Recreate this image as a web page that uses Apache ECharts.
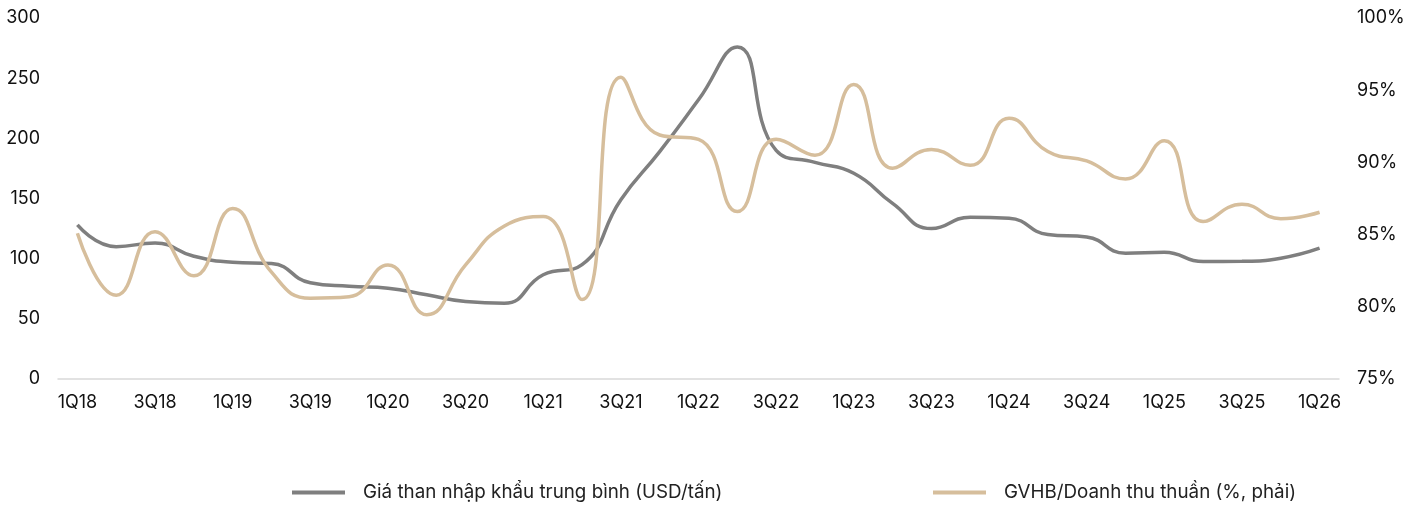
<!DOCTYPE html>
<html><head><meta charset="utf-8">
<script src="https://cdn.jsdelivr.net/npm/echarts@6/dist/echarts.min.js"></script>
<style>html,body{margin:0;padding:0;background:#fff}#c{width:1419px;height:505px}</style>
</head><body><div id="c"></div>
<script>
const categories = ['1Q18','2Q18','3Q18','4Q18','1Q19','2Q19','3Q19','4Q19','1Q20','2Q20','3Q20','4Q20','1Q21','2Q21','3Q21','4Q21','1Q22','2Q22','3Q22','4Q22','1Q23','2Q23','3Q23','4Q23','1Q24','2Q24','3Q24','4Q24','1Q25','2Q25','3Q25','4Q25','1Q26'];
const coalPrice = [128,110,113,102,97,96,80,77,75.5,70,64.4,63,86.6,95,149,189,232,276,190,180,171,146,125,134.5,133.6,120,118,104.6,105.4,97.6,97.8,100.4,108.7];
const cogsRatio = [85.1,80.8,85.2,82.15,86.8,82.4,80.6,80.7,82.9,79.45,82.9,85.6,86.25,80.5,95.9,91.9,91.6,86.6,91.6,90.5,95.4,89.6,90.9,89.8,93.05,90.75,90.1,88.85,91.5,85.9,87.1,86.1,86.55];
const seriesNames = ['Giá than nhập khẩu trung bình (USD/tấn)', 'GVHB/Doanh thu thuần (%, phải)'];

const chart = echarts.init(document.getElementById('c'));
const font = 'Inter';
const legendBase = {
  top: 483, padding: 0, itemWidth: 53, itemHeight: 4, icon: 'rect',
  textStyle: {fontFamily: font, fontSize: 18.8, color: '#222', padding: [0, 0, 0, 13]}
};
chart.setOption({
  animation: false,
  color: ['#7f7f7f', '#d6be9c'],
  grid: {left: 58, right: 80, top: 18, bottom: 126, containLabel: false},
  legend: [
    Object.assign({}, legendBase, {left: 292, data: [seriesNames[0]]}),
    Object.assign({}, legendBase, {left: 933, data: [seriesNames[1]]})
  ],
  xAxis: {
    type: 'category', data: categories, boundaryGap: true,
    axisLine: {lineStyle: {color: '#d9d9d9', width: 1.5}},
    axisTick: {show: false},
    axisLabel: {interval: 1, margin: 15, fontFamily: font, fontSize: 18, color: '#111'}
  },
  yAxis: [
    {type: 'value', min: 0, max: 300, interval: 50, splitLine: {show: false},
     axisLine: {show: false}, axisTick: {show: false},
     axisLabel: {margin: 18, fontFamily: font, fontSize: 18, color: '#111'}},
    {type: 'value', min: 75, max: 100, interval: 5, splitLine: {show: false},
     axisLine: {show: false}, axisTick: {show: false},
     axisLabel: {margin: 18, fontFamily: font, fontSize: 18, color: '#111', formatter: '{value}%'}}
  ],
  series: [
    {name: seriesNames[0], type: 'line', data: coalPrice, yAxisIndex: 0, smooth: 0.5,
     symbol: 'none', lineStyle: {width: 3.5, color: '#7f7f7f'}},
    {name: seriesNames[1], type: 'line', data: cogsRatio, yAxisIndex: 1, smooth: 0.5,
     symbol: 'none', lineStyle: {width: 3.5, color: '#d6be9c'}}
  ]
});
</script></body></html>
